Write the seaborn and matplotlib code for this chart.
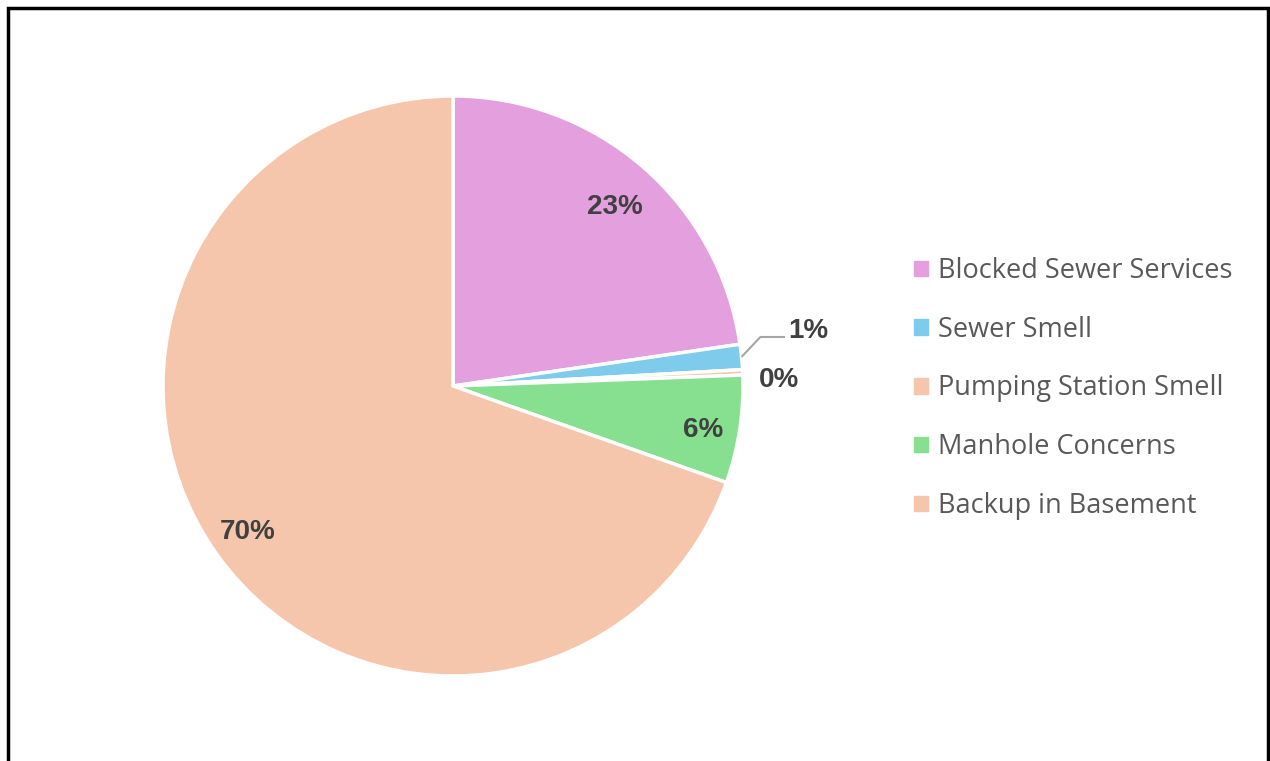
import matplotlib
matplotlib.use("Agg")
import matplotlib.pyplot as plt
import seaborn as sns
from matplotlib.patches import Rectangle
import numpy as np

categories = ["Blocked Sewer Services", "Sewer Smell", "Pumping Station Smell",
              "Manhole Concerns", "Backup in Basement"]
values = [22.7, 1.4, 0.3, 6.0, 69.6]
colors = ["#E39FDE", "#7FCBEB", "#F5C6AC", "#86E08F", "#F5C6AC"]

sns.set_theme(style="white")
plt.rcParams['font.family'] = ['Open Sans', 'DejaVu Sans']

W, H = 1270, 761
fig = plt.figure(figsize=(W / 100, H / 100), dpi=100)
fig.patch.set_facecolor("white")

cx, cy, r = 453, 386, 290
ax = fig.add_axes([(cx - r) / W, (H - cy - r) / H, 2 * r / W, 2 * r / H])
ax.axis("off")

wedges, texts, autotexts = ax.pie(
    values, colors=colors, startangle=90, counterclock=False, radius=1,
    autopct='%.0f%%', pctdistance=0.86,
    wedgeprops=dict(edgecolor="white", linewidth=2.5),
    textprops=dict(color="#404040", fontsize=20, fontweight="bold",
                   family=["Liberation Sans", "DejaVu Sans"]))
ax.set_xlim(-1, 1)
ax.set_ylim(-1, 1)
ax.set_aspect("equal")

# label placement (layout, in axes data units)
label_pos = [(0.557, 0.617), (1.225, 0.19), (1.124, 0.021),
             (0.862, -0.152), (-0.709, -0.504)]
for t, p in zip(autotexts, label_pos):
    t.set_position(p)

# leader line for the small slice
w = wedges[1]
mid = np.deg2rad((w.theta1 + w.theta2) / 2)
x0, y0 = np.cos(mid), np.sin(mid)
ax.plot([x0, 1.06, 1.145], [y0, 0.169, 0.169], color="#A6A6A6", lw=1.5,
        clip_on=False, solid_capstyle="butt")

# legend
handles = [plt.Rectangle((0, 0), 1, 1, color=c) for c in colors]
leg = fig.legend(handles, categories, loc="upper left",
                 bbox_to_anchor=(914 / W, 1 - 257 / H), frameon=False,
                 fontsize=19.5, labelcolor="#595959", handlelength=0.5,
                 handleheight=0.5, handletextpad=0.38, labelspacing=1.135,
                 borderaxespad=0, borderpad=0)

# outer frame
fig.patches.append(Rectangle((8 / W, -0.05), (1268 - 8) / W, 1 - 8 / H + 0.05,
                             transform=fig.transFigure, fill=False,
                             edgecolor="black", linewidth=2.5))

fig.savefig("out.png", dpi=100, facecolor="white")
